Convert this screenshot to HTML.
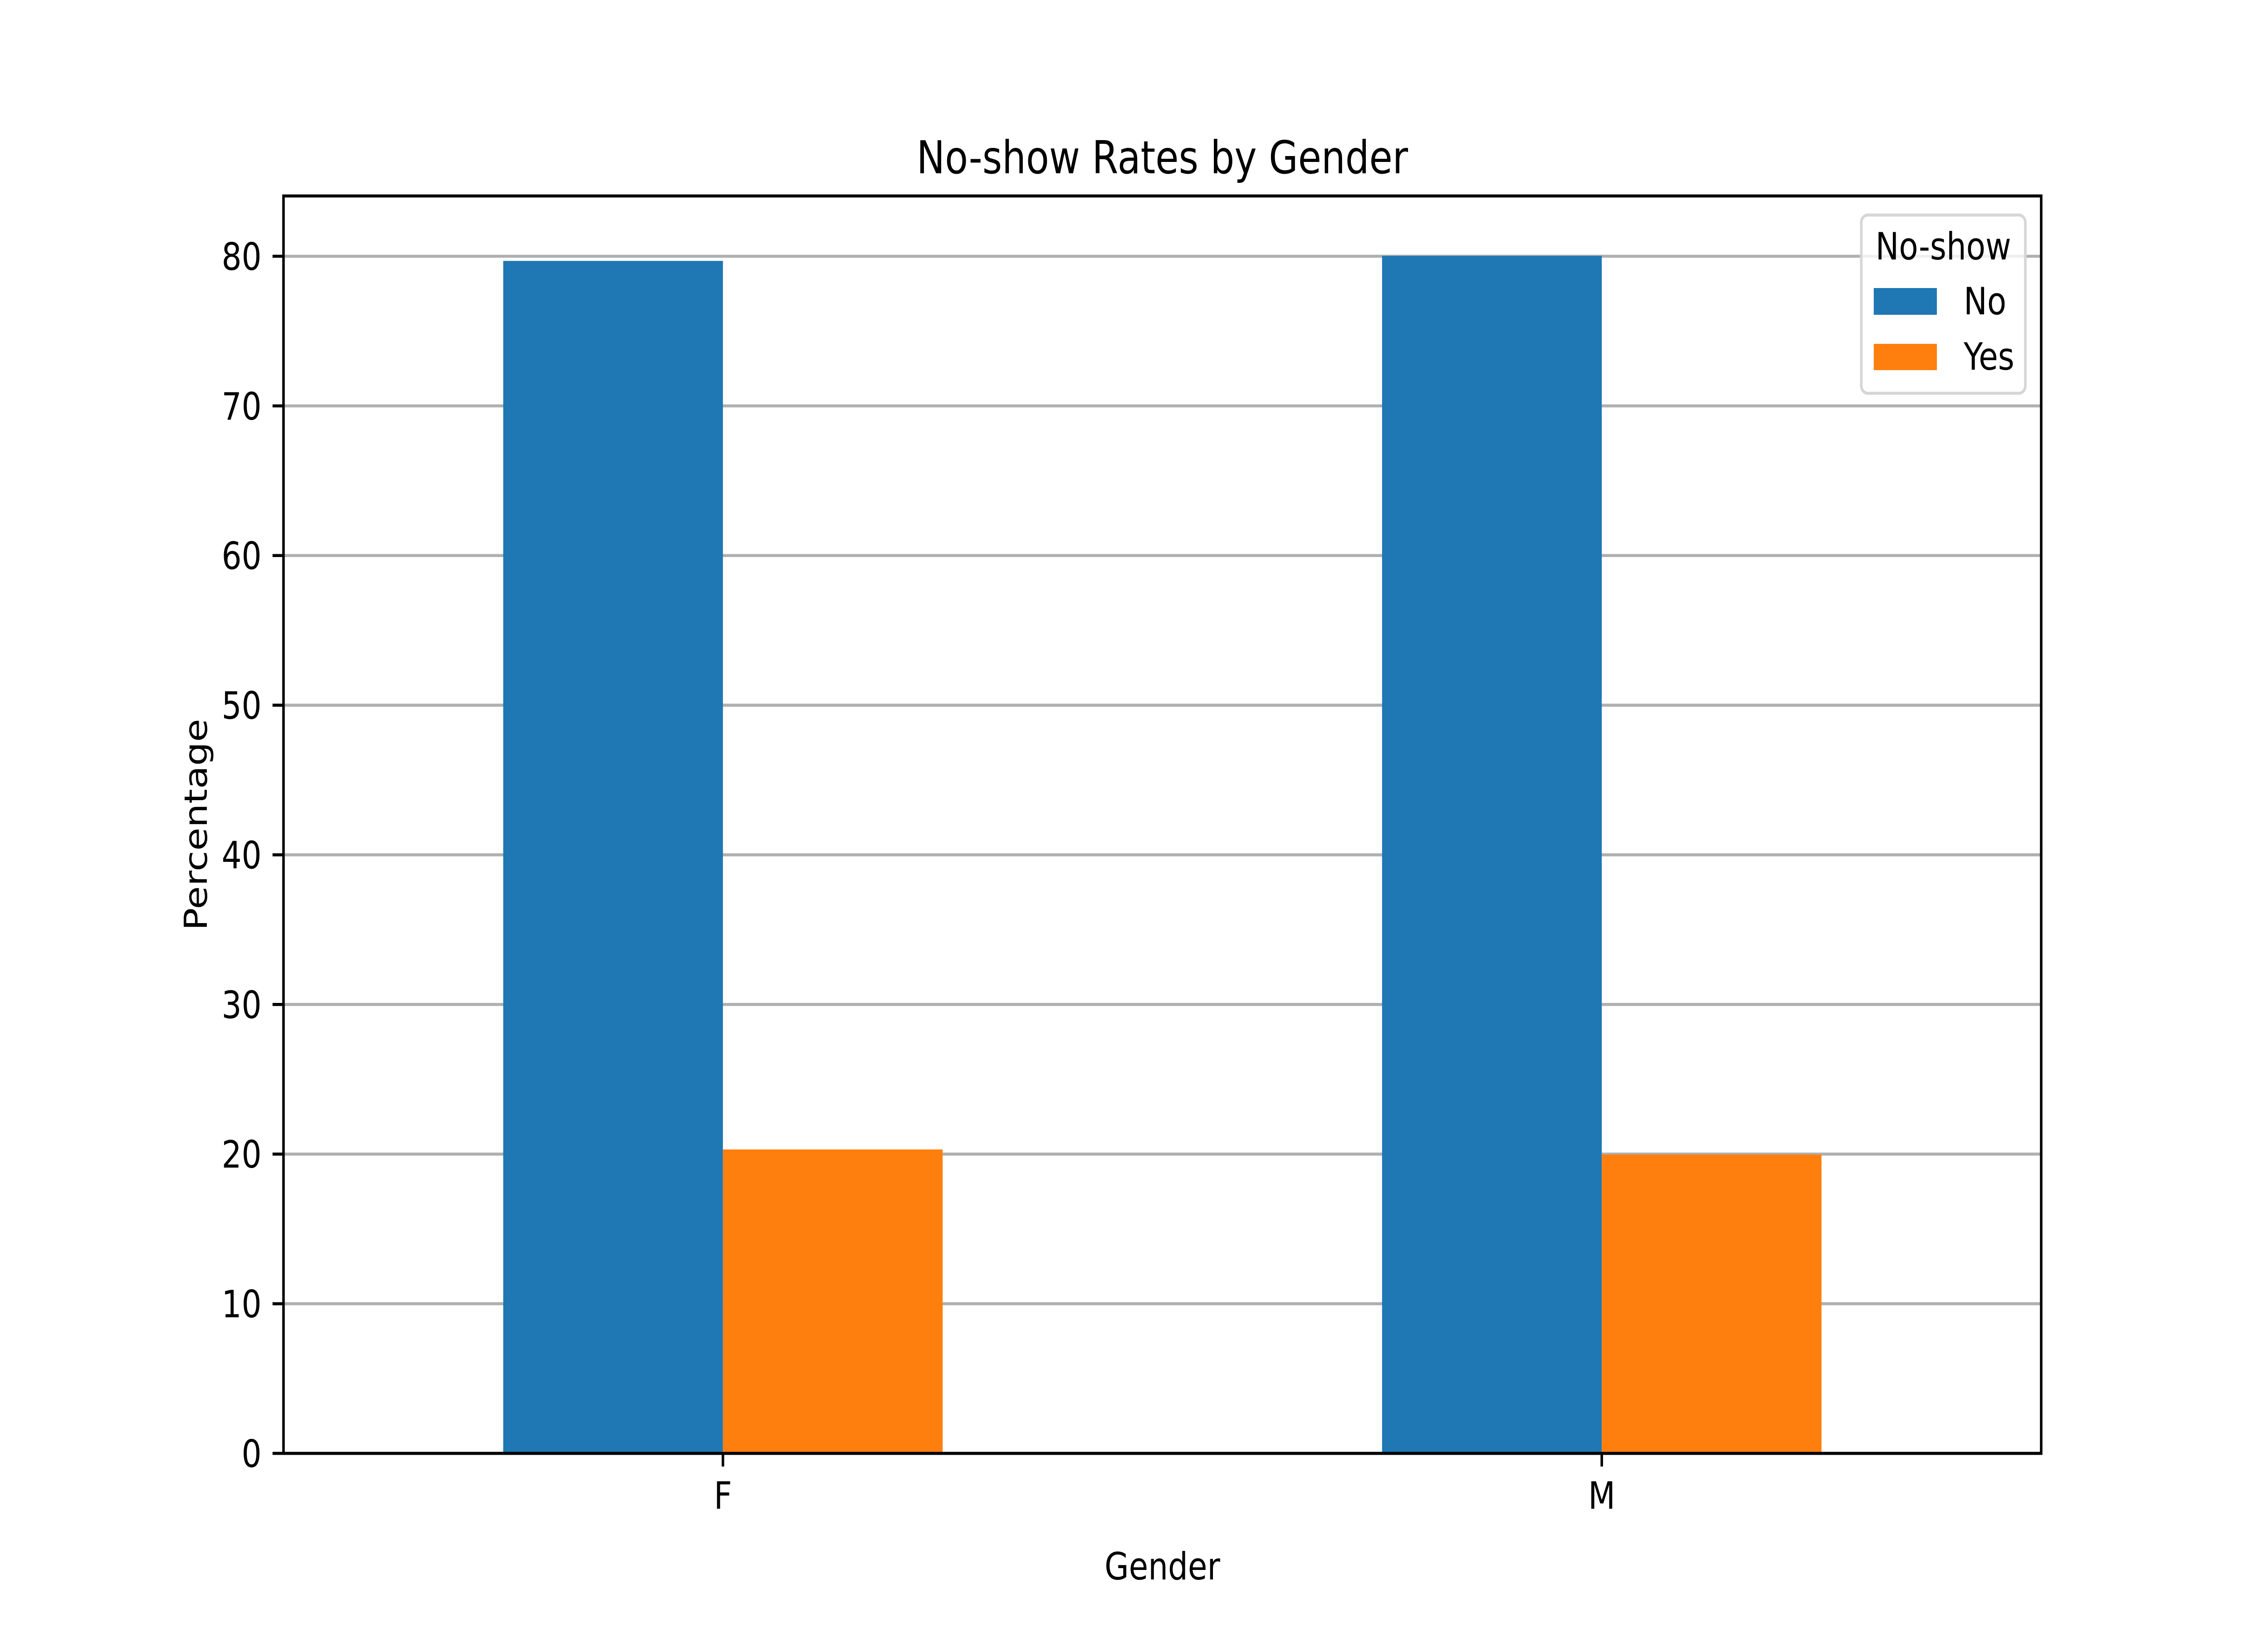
<!DOCTYPE html>
<html><head><meta charset="utf-8"><style>
html,body{margin:0;padding:0;background:#fff;width:100%;height:100%;overflow:hidden}
svg{display:block;width:100vw;height:100vh;font-family:"DejaVu Sans","Liberation Sans",sans-serif}
</style></head><body>
<svg id="chart" viewBox="0 0 6000 3600" preserveAspectRatio="none" xmlns="http://www.w3.org/2000/svg">
<rect x="0" y="0" width="6000" height="3600" fill="#fff"/>
<text x="3075" y="382" font-size="100" text-anchor="middle">No-show Rates by Gender</text>
<text x="3075" y="3482" font-size="83" text-anchor="middle">Gender</text>
<text x="0" y="0" font-size="83" text-anchor="middle" transform="translate(547,1818) rotate(-90)">Percentage</text>
<g id="grid"></g>
<g id="bars"></g>
<rect x="750" y="432" width="4650" height="2772" fill="none" stroke="#000" stroke-width="6.7"/>
<g id="ticks"></g>
<g>
<rect x="4924" y="474" width="434" height="393" rx="17" fill="#fff" fill-opacity="0.8" stroke="#d6d6d6" stroke-width="6.7"/>
<text x="5141" y="572" font-size="83" text-anchor="middle">No-show</text>
<rect x="4957" y="635" width="167" height="59" fill="#1f77b4"/>
<text x="5195" y="693" font-size="83">No</text>
<rect x="4957" y="758" width="167" height="58" fill="#ff7f0e"/>
<text x="5195" y="815" font-size="83">Yes</text>
</g>
</svg>
<script>
const categories = ["F", "M"];
const seriesNames = ["No", "Yes"];
const noValues = [79.69, 80.03];
const yesValues = [20.31, 19.97];
const yTicks = [0, 10, 20, 30, 40, 50, 60, 70, 80];

const NS = "http://www.w3.org/2000/svg";
const L = 750, R = 5400, T = 432, B = 3204;
const xMin = -0.5, xMax = 1.5, yMin = 0, yMax = 84.03;
const xs = v => L + (v - xMin) / (xMax - xMin) * (R - L);
const ys = v => B - (v - yMin) / (yMax - yMin) * (B - T);
function mk(tag, attrs, parent) {
  const e = document.createElementNS(NS, tag);
  for (const k in attrs) e.setAttribute(k, attrs[k]);
  parent.appendChild(e);
  return e;
}
const grid = document.getElementById("grid");
const bars = document.getElementById("bars");
const ticks = document.getElementById("ticks");

yTicks.forEach(t => {
  const y = ys(t);
  const g = mk("line", {x1: L, x2: R, y1: y, y2: y, stroke: "#b0b0b0", "stroke-width": 6.7}, grid);
  
  
  const tk = mk("line", {x1: L - 29, x2: L, y1: y, y2: y, stroke: "#000", "stroke-width": 6.7}, ticks);
  
  
  const lb = mk("text", {x: L - 58, y: y + 30, "font-size": 83, "text-anchor": "end"}, ticks);
  lb.textContent = String(t);
  
  
});

const series = [noValues, yesValues];
const colors = ["#1f77b4", "#ff7f0e"];
const w = 0.25;
categories.forEach((c, i) => {
  series.forEach((vals, s) => {
    const x0 = xs(i - w + s * w), x1 = xs(i + s * w);
    const r = mk("rect", {x: x0, y: ys(vals[i]), width: x1 - x0, height: ys(0) - ys(vals[i]), fill: colors[s]}, bars);
    
    
  });
  const x = xs(i);
  const tk = mk("line", {x1: x, x2: x, y1: B, y2: B + 29, stroke: "#000", "stroke-width": 6.7}, ticks);
  
  
  const lb = mk("text", {x: x, y: B + 122, "font-size": 83, "text-anchor": "middle"}, ticks);
  lb.textContent = c;
  
  
});
</script>
</body></html>
